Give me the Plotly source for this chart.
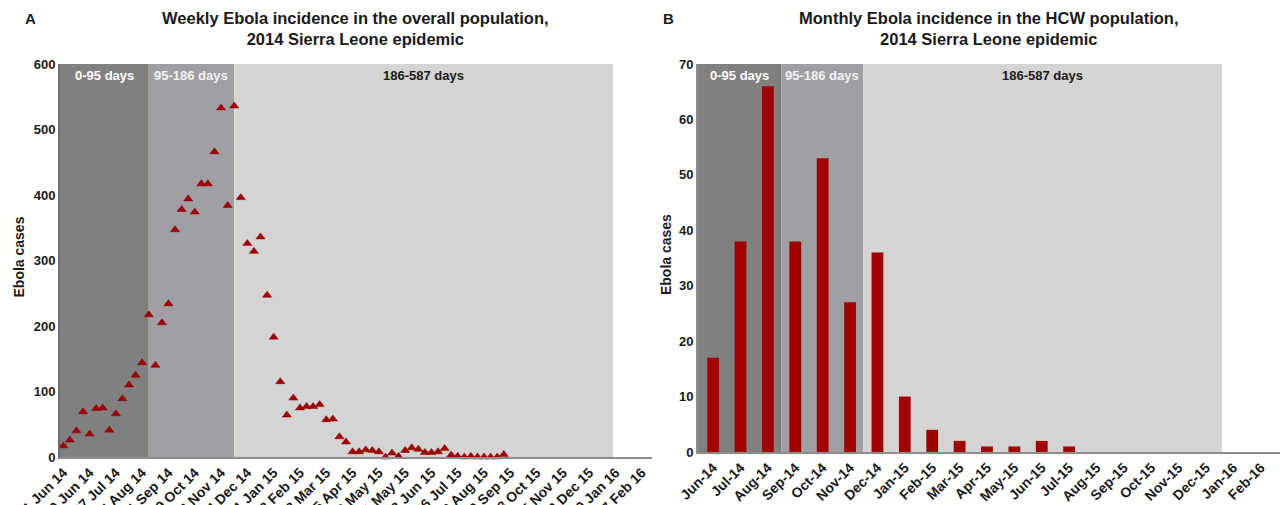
import plotly.graph_objects as go

# ---------------- data ----------------
week_labels = ["01 Jun 14", "29 Jun 14", "27 Jul 14", "24 Aug 14", "21 Sep 14", "19 Oct 14",
               "16 Nov 14", "14 Dec 14", "11 Jan 15", "08 Feb 15", "08 Mar 15", "05 Apr 15",
               "03 May 15", "31 May 15", "28 Jun 15", "26 Jul 15", "23 Aug 15", "20 Sep 15",
               "18 Oct 15", "15 Nov 15", "13 Dec 15", "10 Jan 16", "07 Feb 16"]
weekly_cases = [17, 26, 40, 69, 35, 74, 75, 41, 66, 89, 110, 125, 144, 217, 140, 205, 234,
                347, 378, 394, 374, 417, 417, 466, 533, 384, 536, 396, 326, 314, 336,
                247, 183, 115, 64, 90, 75, 77, 77, 80, 57, 58, 31, 23,
                8, 8, 11, 10, 8, 0, 6, 1, 10, 14, 12, 7, 7, 8, 13, 3, 1, 0, 1, 0, 0, 0, 0, 4]
week_index = list(range(len(weekly_cases)))

months = ["Jun-14", "Jul-14", "Aug-14", "Sep-14", "Oct-14", "Nov-14", "Dec-14", "Jan-15",
          "Feb-15", "Mar-15", "Apr-15", "May-15", "Jun-15", "Jul-15", "Aug-15", "Sep-15",
          "Oct-15", "Nov-15", "Dec-15", "Jan-16", "Feb-16"]
hcw_cases = [17, 38, 66, 38, 53, 27, 36, 10, 4, 2, 1, 1, 2, 1, 0, 0, 0, 0, 0, 0, 0]

period_labels = ["0-95 days", "95-186 days", "186-587 days"]

# ---------------- style ----------------
FONT = "Liberation Sans, Arial, sans-serif"
RED = "#A00000"
SHADES = ["#808080", "#A09FA4", "#D4D4D4"]
LABEL_COLORS = ["white", "#F2F2F2", "#1a1a1a"]
AXIS_COLOR = "#8C8C8C"
TEXT = "#1a1a1a"

# region bounds (in axis units)
left_bounds = [-0.5, 13, 26, 83.6]
right_bounds = [-0.55, 2.5, 5.48, 18.58]

fig = go.Figure()

fig.add_trace(go.Scatter(
    x=week_index, y=weekly_cases, mode="markers",
    marker=dict(symbol="triangle-up", size=8, color=RED, line=dict(width=0.5, color="#8a0000")),
    xaxis="x", yaxis="y", showlegend=False, cliponaxis=False, hoverinfo="skip"))

fig.add_trace(go.Bar(
    x=list(range(len(months))), y=hcw_cases, width=0.43,
    marker=dict(color=RED, line=dict(width=0)),
    xaxis="x2", yaxis="y2", showlegend=False, hoverinfo="skip"))

shapes = []
annotations = []
for bounds, xr, yr in [(left_bounds, "x", "y"), (right_bounds, "x2", "y2")]:
    for i in range(3):
        shapes.append(dict(type="rect", xref=xr, yref=yr + " domain",
                           x0=bounds[i], x1=bounds[i + 1], y0=0, y1=1,
                           fillcolor=SHADES[i], line=dict(width=0), layer="below"))
        annotations.append(dict(xref=xr, yref=yr + " domain",
                                x=(bounds[i] + bounds[i + 1]) / 2, y=1, yanchor="top", yshift=-2,
                                text=period_labels[i], showarrow=False,
                                font=dict(family=FONT, size=13, color=LABEL_COLORS[i], weight="bold")))

# titles
for xr, letter, title in [("x", "A", "Weekly Ebola incidence in the overall population,<br>2014 Sierra Leone epidemic"),
                          ("x2", "B", "Monthly Ebola incidence in the HCW population,<br>2014 Sierra Leone epidemic")]:
    annotations.append(dict(xref=xr + " domain", yref="paper", x=0.5, y=1, yanchor="bottom",
                            yshift=14, text=title, showarrow=False,
                            font=dict(family=FONT, size=16.5, color=TEXT, weight="bold")))
    annotations.append(dict(xref=xr + " domain", yref="paper", x=0, y=1, yanchor="bottom",
                            xanchor="center", xshift=-30, yshift=35, text=letter, showarrow=False,
                            font=dict(family=FONT, size=15, color=TEXT, weight="bold")))

# y titles
for xr, yr, shift in [("x", "y", -42), ("x2", "y2", -32)]:
    annotations.append(dict(xref=xr + " domain", yref=yr + " domain", x=0, y=0.5, xshift=shift,
                            xanchor="center", yanchor="middle",
                            yshift=3, textangle=-90, text="Ebola cases", showarrow=False,
                            font=dict(family=FONT, size=14, color=TEXT, weight="bold")))

tickfont = dict(family=FONT, size=13, color=TEXT, weight="bold")
xtickfont = dict(family=FONT, size=14, color=TEXT, weight="bold")

fig.update_layout(
    width=1282, height=505,
    margin=dict(l=60, r=2, t=64, b=48),
    plot_bgcolor="white", paper_bgcolor="white",
    shapes=shapes, annotations=annotations,
    xaxis=dict(domain=[0, 0.485], range=[-0.5, 89.5], tickmode="array",
               tickvals=list(range(0, 4 * len(week_labels), 4)), ticktext=week_labels,
               tickangle=-45, tickfont=xtickfont,
               showgrid=False, zeroline=False, showline=True, linecolor=AXIS_COLOR, linewidth=2,
               ticks="", automargin=False),
    yaxis=dict(domain=[0, 1], range=[0, 600], dtick=100, tickfont=tickfont,
               showgrid=False, zeroline=False, showline=True, linecolor="#6e6e6e", linewidth=2,
               ticks="", automargin=False),
    xaxis2=dict(domain=[0.523, 1], range=[-0.55, 20.7], tickmode="array",
                tickvals=list(range(len(months))), ticktext=months,
                tickangle=-45, tickfont=xtickfont,
                showgrid=False, zeroline=False, showline=True, linecolor=AXIS_COLOR, linewidth=2,
                ticks="", automargin=False, anchor="y2"),
    yaxis2=dict(domain=[0.0127, 1], range=[0, 70], dtick=10, tickfont=tickfont,
                showgrid=False, zeroline=False, showline=True, linecolor=AXIS_COLOR, linewidth=2,
                ticks="", automargin=False, anchor="x2"),
)

fig.write_html("out.html", config={"displayModeBar": False},
               post_script="document.body.style.margin='0';")
